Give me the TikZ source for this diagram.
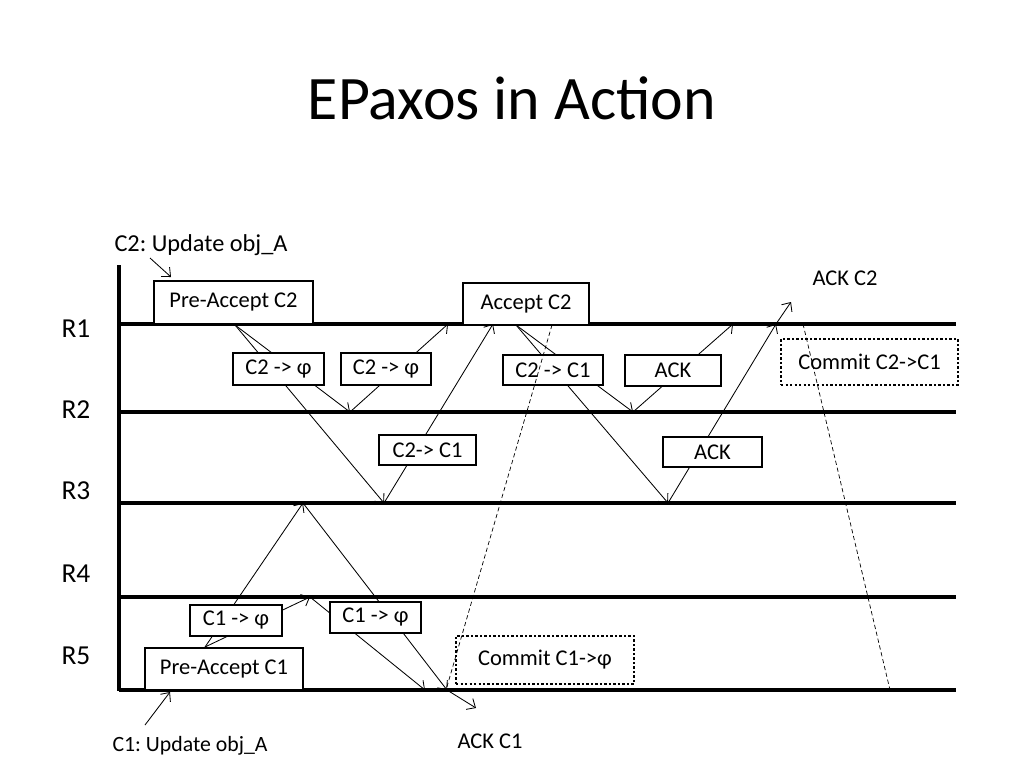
\documentclass[tikz,border=0pt]{standalone}
\usepackage{fontspec}
\setmainfont{Carlito}
\usepackage{tikz}
\usetikzlibrary{arrows.meta, positioning, calc}
\frenchspacing

\begin{document}
\begin{tikzpicture}[
    >={Straight Barb[length=5pt,width=9pt]},
    x=0.25mm, y=-0.25mm,
    font=\fontsize{16}{19}\selectfont,
    msg/.style={draw, line width=1.9pt, fill=white, inner sep=0pt},
    commit/.style={draw, line width=1.8pt, dash pattern=on 1.6pt off 1.6pt, fill=white, inner sep=0pt},
    lane/.style={line width=2.5pt},
    hop/.style={->, line width=0.6pt},
    relay/.style={dash pattern=on 3pt off 2pt, line width=0.5pt},
    side/.style={font=\fontsize{19.5}{23}\selectfont},
    client/.style={font=\fontsize{17.3}{21}\selectfont}
]

    \useasboundingbox (0,0) rectangle (1024,768);

    % Title
    \node (title) at (512,98) {\fontsize{44}{50}\selectfont EPaxos in Action};

    % Replica lanes
    \draw[lane] (119,265) -- (119,691);
    \foreach \y in {324,412,503,597,690}
        \draw[lane] (119,\y) -- (956,\y);

    \node[side] (r1) at (76,329) {R1};
    \node[side] (r2) at (76,410) {R2};
    \node[side] (r3) at (76,491) {R3};
    \node[side] (r4) at (76,574) {R4};
    \node[side] (r5) at (76,656) {R5};

    % Event points
    \coordinate (preC2)  at (235,325);
    \coordinate (phiR2)  at (350,412);
    \coordinate (phiR3)  at (384,503);
    \coordinate (repA)   at (448,324);
    \coordinate (repB)   at (493,324);
    \coordinate (accC2)  at (516,325);
    \coordinate (ackR2)  at (633,412);
    \coordinate (ackR3)  at (668,503);
    \coordinate (ackA)   at (733,324);
    \coordinate (ackB)   at (776,324);
    \coordinate (ackOut) at (791,302);
    \coordinate (preC1)  at (205,647);
    \coordinate (c1R3)   at (303,503);
    \coordinate (c1R4)   at (310,597);
    \coordinate (c1A)    at (425,690);
    \coordinate (c1B)    at (447,690);
    \coordinate (ackC1)  at (476,708);
    \coordinate (cmtA)   at (552,325);
    \coordinate (cmtA')  at (446,690);
    \coordinate (cmtB)   at (803,324);
    \coordinate (cmtB')  at (890,690);

    % Messages for C2
    \draw[hop] (preC2) -- (phiR2);
    \draw[hop] (preC2) -- (phiR3);
    \draw[hop] (phiR2) -- (repA);
    \draw[hop] (phiR3) -- (repB);
    \draw[hop] (accC2) -- (ackR2);
    \draw[hop] (accC2) -- (ackR3);
    \draw[hop] (ackR2) -- (ackA);
    \draw[hop] (ackR3) -- (ackB);
    \draw[hop] (ackB) -- (ackOut);

    % Messages for C1
    \draw[hop] (preC1) -- (c1R3);
    \draw[hop] (preC1) -- (c1R4);
    \draw[hop] (c1R3) -- (c1B);
    \draw[hop] (c1R4) -- (c1A);
    \draw[hop] (c1B) -- (ackC1);

    % Boxes
    \node[msg, minimum width=39.75mm, minimum height=10.75mm] (pac2) at (233.5,302.5) {Pre-Accept C2};
    \node[msg, minimum width=31.5mm, minimum height=10.5mm] (ac2) at (526,304) {Accept C2};
    \node[msg, minimum width=22.75mm, minimum height=8mm] (dep1) at (278.5,369) {C2 -> φ};
    \node[msg, minimum width=22.5mm, minimum height=8mm] (dep2) at (386,369) {C2 -> φ};
    \node[msg, minimum width=24.25mm, minimum height=7.5mm] (dep3) at (427.5,450) {C2-> C1};
    \node[msg, minimum width=25mm, minimum height=7.5mm] (dep4) at (553,370) {C2 -> C1};
    \node[msg, minimum width=24mm, minimum height=7.75mm] (ack1) at (673,370.5) {ACK};
    \node[msg, minimum width=24.75mm, minimum height=7.5mm] (ack2) at (712.5,452) {ACK};
    \node[msg, minimum width=23mm, minimum height=7.75mm] (dep5) at (236,620.5) {C1 -> φ};
    \node[msg, minimum width=22.75mm, minimum height=7.75mm] (dep6) at (375.5,617.5) {C1 -> φ};
    \node[msg, minimum width=39.5mm, minimum height=10.5mm] (pac1) at (224,669) {Pre-Accept C1};
    \node[commit, minimum width=44.25mm, minimum height=11.5mm] (com2) at (869.5,362) {Commit C2->C1};
    \node[commit, minimum width=44.5mm, minimum height=12mm] (com1) at (545,660) {Commit C1->φ};

    % Commit broadcasts
    \draw[relay] (cmtA) -- (cmtA');
    \draw[relay] (cmtB) -- (cmtB');

    % Clients
    \node[client] (upC2) at (201,245) {C2: Update obj\_A};
    \node (upC1) at (190,746) {\fontsize{15.5}{19}\selectfont C1: Update obj\_A};
    \node (ackT2) at (845,278) {ACK C2};
    \node (ackT1) at (490,741) {ACK C1};
    \coordinate (inC2) at (171,277);
    \coordinate (inC1) at (170,692);
    \draw[hop] (150,258) -- (inC2);
    \draw[hop] (145,725) -- (inC1);

\end{tikzpicture}
\end{document}
